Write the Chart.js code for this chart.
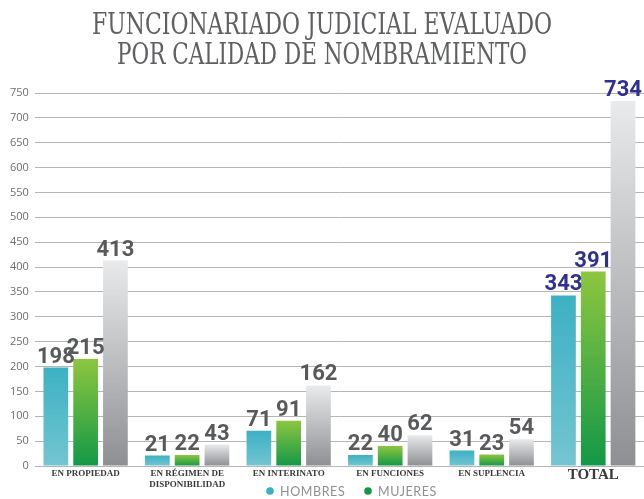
<!DOCTYPE html>
<html>
<head>
<meta charset="utf-8">
<script src="https://cdn.jsdelivr.net/npm/chart.js@4.4.1/dist/chart.umd.min.js"></script>
<style>
  html, body { margin: 0; padding: 0; background: #fff; overflow: hidden; }
  #wrap { width: 644px; height: 499px; position: relative; }
</style>
</head>
<body>
<div id="wrap"><canvas id="chart"></canvas></div>
<script>
// data
const titleLines = ['FUNCIONARIADO JUDICIAL EVALUADO', 'POR CALIDAD DE NOMBRAMIENTO'];
const categories = [
  'EN PROPIEDAD',
  ['EN RÉGIMEN DE', 'DISPONIBILIDAD'],
  'EN INTERINATO',
  'EN FUNCIONES',
  'EN SUPLENCIA',
  'TOTAL'
];
const hombres = [198, 21, 71, 22, 31, 343];
const mujeres = [215, 22, 91, 40, 23, 391];
const totales = [413, 43, 162, 62, 54, 734];
const yMax = 750;
const yStep = 50;

// top / bottom colours of each bar gradient
const fills = {
  teal: ['#3cb1c3', '#74c5d1'],
  green: ['#8dc63f', '#139847'],
  grey: ['#e9eaeb', '#8e8f93']
};

function barGradient(pair) {
  return (ctx) => {
    const chart = ctx.chart;
    const y = chart.scales && chart.scales.y;
    if (!chart.chartArea || !y || ctx.raw == null) return pair[0];
    const top = y.getPixelForValue(ctx.raw);
    const bottom = y.getPixelForValue(0);
    const g = chart.ctx.createLinearGradient(0, top, 0, bottom);
    g.addColorStop(0, pair[0]);
    g.addColorStop(1, pair[1]);
    return g;
  };
}

// title drawn by hand so the slab serif can be condensed to the reference width
const titlePlugin = {
  id: 'slabTitle',
  afterDraw(chart) {
    const c = chart.ctx;
    const widths = [460, 410];
    const ys = [34, 64];
    c.save();
    c.fillStyle = '#5f6062';
    c.font = '30px "DejaVu Serif Condensed", "DejaVu Serif", serif';
    c.textBaseline = 'alphabetic';
    titleLines.forEach((line, i) => {
      const w = c.measureText(line).width;
      const sx = widths[i] / w;
      c.save();
      c.translate(322, ys[i]);
      c.scale(sx, 1);
      c.textAlign = 'center';
      c.fillText(line, 0, 0);
      c.restore();
    });
    c.restore();
  }
};

// value labels above each bar
const valuePlugin = {
  id: 'valueLabels',
  afterDatasetsDraw(chart) {
    const c = chart.ctx;
    c.save();
    c.font = 'bold 22px Roboto, "Noto Sans", sans-serif';
    c.textAlign = 'center';
    c.textBaseline = 'alphabetic';
    chart.data.datasets.forEach((ds, di) => {
      const meta = chart.getDatasetMeta(di);
      meta.data.forEach((bar, i) => {
        c.fillStyle = i === categories.length - 1 ? '#2e3192' : '#58595b';
        c.fillText(String(ds.data[i]), bar.x, bar.y - 5);
      });
    });
    c.restore();
  }
};

// small legend under the axis (only the two gender series)
const legendPlugin = {
  id: 'miniLegend',
  afterDraw(chart) {
    const c = chart.ctx;
    const dots = [fills.teal[0], fills.green[1]];
    const xs = [270, 368];
    c.save();
    c.font = '12.5px Lato, "Open Sans", sans-serif';
    c.textBaseline = 'middle';
    c.textAlign = 'left';
    if ('letterSpacing' in c) c.letterSpacing = '0.6px';
    chart.data.datasets.slice(0, 2).forEach((ds, i) => {
      c.fillStyle = dots[i];
      c.beginPath();
      c.arc(xs[i], 491, 3.8, 0, Math.PI * 2);
      c.fill();
      c.fillStyle = '#8f9093';
      c.fillText(ds.label, xs[i] + 10, 491.5);
    });
    c.restore();
  }
};

new Chart(document.getElementById('chart'), {
  type: 'bar',
  data: {
    labels: categories,
    datasets: [
      { label: 'HOMBRES', data: hombres, backgroundColor: barGradient(fills.teal) },
      { label: 'MUJERES', data: mujeres, backgroundColor: barGradient(fills.green) },
      { label: 'TOTAL', data: totales, backgroundColor: barGradient(fills.grey) }
    ]
  },
  options: {
    responsive: true,
    maintainAspectRatio: false,
    animation: false,
    datasets: {
      bar: { categoryPercentage: 0.88, barPercentage: 0.83 }
    },
    layout: { padding: { top: 93, left: 4, right: 0, bottom: 11 } },
    plugins: {
      title: { display: false },
      tooltip: { enabled: false },
      legend: { display: false }
    },
    scales: {
      x: {
        grid: { display: false, drawTicks: false },
        border: { display: false },
        afterFit: (axis) => { axis.height = 22; },
        ticks: {
          padding: 2,
          color: '#3a3a3c',
          maxRotation: 0,
          autoSkip: false,
          font: (ctx) => ctx.index === categories.length - 1
            ? { family: '"Liberation Serif", serif', size: 15, weight: 'bold', lineHeight: 1.0 }
            : { family: '"Liberation Serif", serif', size: 9, weight: 'bold', lineHeight: 1.2 }
        }
      },
      y: {
        min: 0,
        max: yMax,
        border: { display: false },
        grid: { color: '#b4b5b7', lineWidth: 1, drawTicks: false },
        ticks: {
          stepSize: yStep,
          padding: 6,
          color: '#6d6e71',
          font: { family: '"Open Sans", sans-serif', size: 11 }
        }
      }
    }
  },
  plugins: [titlePlugin, valuePlugin, legendPlugin]
});
</script>
</body>
</html>
